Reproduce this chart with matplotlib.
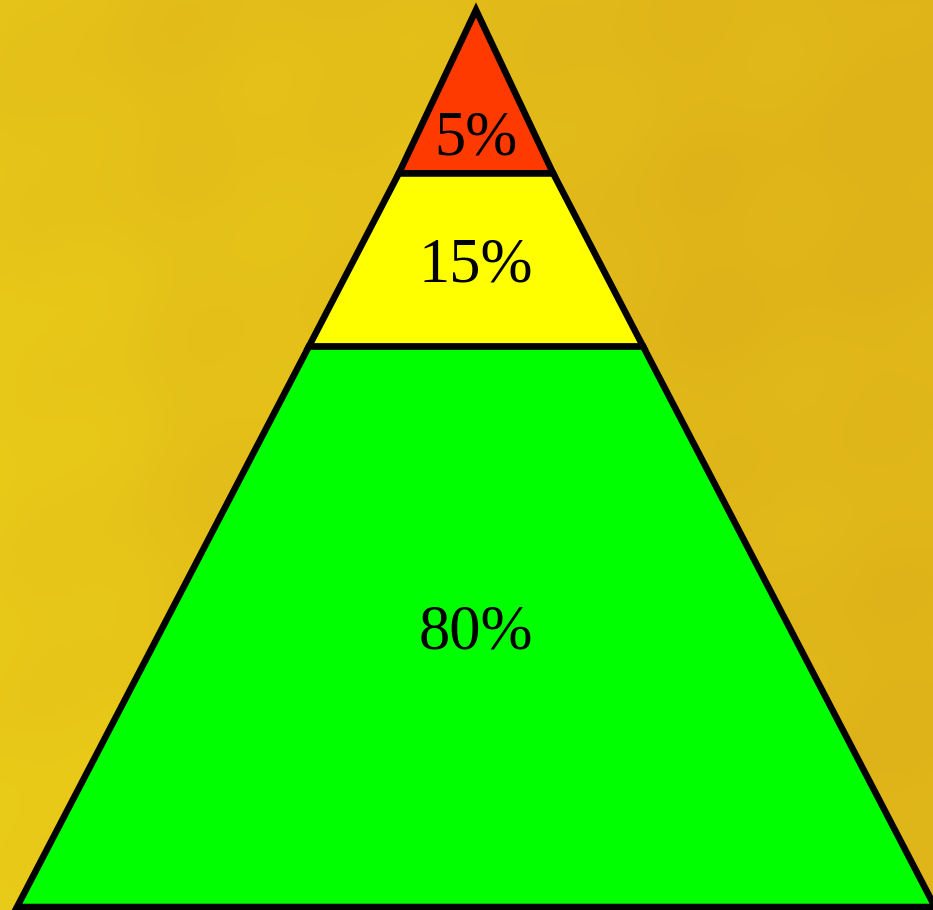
import matplotlib
matplotlib.use('Agg')
import matplotlib.pyplot as plt
from matplotlib.patches import Polygon
import numpy as np

# Pyramid layers, bottom to top
labels = ['80%', '15%', '5%']
band_heights = [0.625, 0.193, 0.182]      # share of total pyramid height
edge_half_widths = [0.5, 0.182, 0.084, 0.0]  # half width at each band boundary (base width = 1)
label_fracs = [0.5, 0.5, 0.25]            # where the label sits inside each band
colors = ['#00FF00', '#FFFF00', '#FF3A00']

fig = plt.figure(figsize=(9.33, 9.10), dpi=100)
ax = fig.add_axes([0, 0, 1, 1])

# x in units of base width (apex at 0), y in units of pyramid height
x0, x1 = -476 / 918, (933 - 476) / 918
y0, y1 = -3 / 897, 907 / 897
ax.set_xlim(x0, x1)
ax.set_ylim(y0, y1)
ax.axis('off')

# paper-like golden background
gx, gy = np.meshgrid(np.linspace(0, 1, 300), np.linspace(0, 1, 300))
shade = (0.55 * gx + 0.15 * (1 - gy)
         + 0.10 * np.sin(9 * gx + 4 * gy) * np.cos(7 * gy - 3 * gx)
         + 0.06 * np.sin(23 * gx + 17 * gy) * np.sin(19 * gy - 11 * gx))
shade = (shade - shade.min()) / (shade.max() - shade.min())
light = np.array([233, 203, 24]) / 255
dark = np.array([222, 178, 26]) / 255
bg = light[None, None, :] * (1 - shade[..., None]) + dark[None, None, :] * shade[..., None]
ax.imshow(bg, extent=(x0, x1, y0, y1), origin='upper', aspect='auto', zorder=0)

bottom = 0.0
for i, (lab, h, c) in enumerate(zip(labels, band_heights, colors)):
    top = bottom + h
    wb = edge_half_widths[i]
    wt = edge_half_widths[i + 1]
    if wt < 1e-6:
        pts = [(-wb, bottom), (wb, bottom), (0, top)]
    else:
        pts = [(-wb, bottom), (wb, bottom), (wt, top), (-wt, top)]
    ax.add_patch(Polygon(pts, closed=True, facecolor=c, edgecolor='black',
                         linewidth=4.7, joinstyle='miter', zorder=2))
    ax.text(0, bottom + label_fracs[i] * h, lab, ha='center', va='center_baseline',
            fontsize=45, family='Liberation Serif', color='black', zorder=3)
    bottom = top

fig.savefig('out.png', dpi=100)
